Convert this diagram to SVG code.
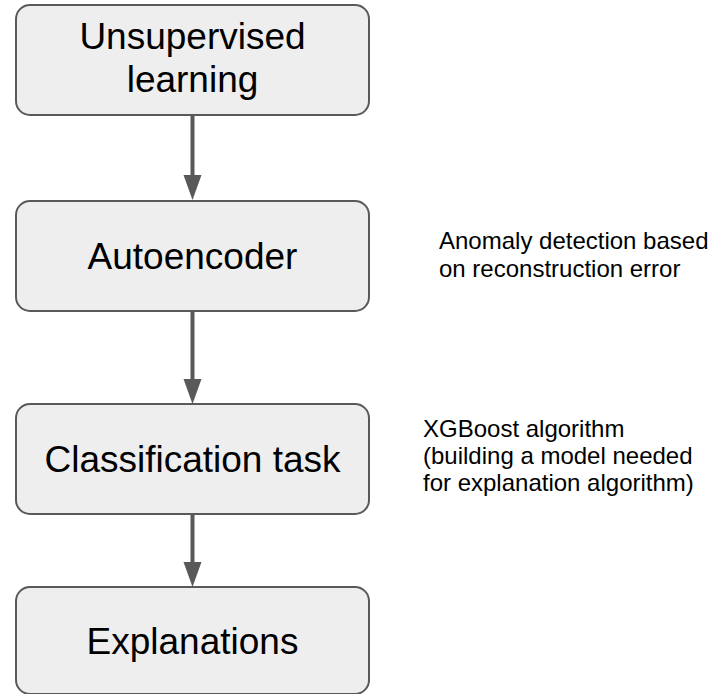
<svg xmlns="http://www.w3.org/2000/svg" width="712" height="694" viewBox="0 0 712 694">
<defs>
<style>
.box{fill:#eeeeee;stroke:#595959;stroke-width:2}
.lbl{font-family:"Liberation Sans",Arial,sans-serif;font-size:37px;fill:#000;text-anchor:middle}
.note{font-family:"Liberation Sans",Arial,sans-serif;font-size:24px;fill:#000}
.edge{stroke:#595959;stroke-width:4;fill:none}
</style>
<marker id="ah" markerUnits="userSpaceOnUse" markerWidth="20" markerHeight="26" refX="9" refY="24" orient="auto-start-reverse" viewBox="0 0 18 24">
<polygon points="0,0 18,0 9,24" fill="#595959"/>
</marker>
</defs>
<rect width="712" height="694" fill="#ffffff"/>
<g id="connectors">
<line class="edge" x1="192.5" y1="116" x2="192.5" y2="176"/>
<polygon points="183.5,175 201.5,175 192.5,200" fill="#595959"/>
<line class="edge" x1="192.5" y1="312" x2="192.5" y2="380"/>
<polygon points="183.5,379 201.5,379 192.5,404" fill="#595959"/>
<line class="edge" x1="192.5" y1="515" x2="192.5" y2="563"/>
<polygon points="183.5,562 201.5,562 192.5,587" fill="#595959"/>
</g>
<g id="n1">
<rect class="box" x="16" y="5" width="353" height="110" rx="14"/>
<text class="lbl" x="192.5" y="49">Unsupervised</text>
<text class="lbl" x="192.5" y="92">learning</text>
</g>
<g id="n2">
<rect class="box" x="16" y="201" width="353" height="110" rx="14"/>
<text class="lbl" x="192.5" y="269">Autoencoder</text>
</g>
<g id="n3">
<rect class="box" x="16" y="404" width="353" height="110" rx="14"/>
<text class="lbl" x="192.5" y="472">Classification task</text>
</g>
<g id="n4">
<rect class="box" x="16" y="587" width="353" height="107" rx="14"/>
<text class="lbl" x="192.5" y="654">Explanations</text>
</g>
<g id="note1">
<text class="note" x="439" y="249">Anomaly detection based</text>
<text class="note" x="439" y="277">on reconstruction error</text>
</g>
<g id="note2">
<text class="note" x="423" y="437">XGBoost algorithm</text>
<text class="note" x="423" y="464">(building a model needed</text>
<text class="note" x="423" y="491">for explanation algorithm)</text>
</g>
</svg>
